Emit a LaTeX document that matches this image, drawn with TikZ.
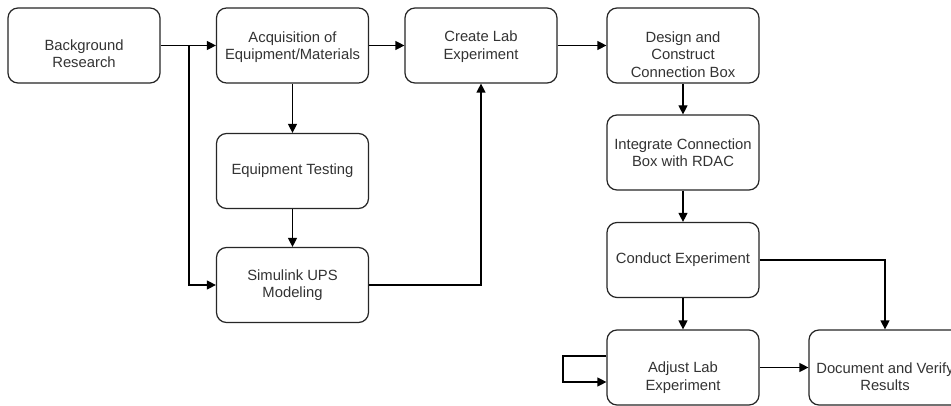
\documentclass[tikz,border=0pt]{standalone}
\usepackage{fontspec}
\setmainfont{Liberation Sans}
\usetikzlibrary{arrows.meta}
\definecolor{txt}{HTML}{333333}
\begin{document}
\begin{tikzpicture}[x=1pt,y=-1pt,
  box/.style={draw=black!85,line width=1.2pt,rounded corners=10pt,minimum width=152pt,minimum height=75pt,inner sep=0pt},
  lbl/.style={align=center,text=txt,font=\fontsize{14.8}{17.5}\selectfont,inner sep=0pt},
  conn/.style={draw=black,line width=1.2pt,-{Triangle[length=9pt,width=9pt]}}]
\useasboundingbox (0,0) rectangle (951,406);
\clip (0,0) rectangle (951,406);
\fill[white] (0,0) rectangle (951,406);
% boxes
\node[box] (bg) at (84,45.5) {};
\node[lbl] at ([yshift=-8]bg.center) {Background\\Research};
\node[box] (acq) at (292.5,45.5) {};
\node[lbl] at ([yshift=-1.5]acq.center) {Acquisition of\\Equipment/Materials};
\node[box] (create) at (481,45.5) {};
\node[lbl] at ([yshift=-1]create.center) {Create Lab\\Experiment};
\node[box] (design) at (683,45.5) {};
\node[lbl] at ([yshift=-9]design.center) {Design and\\Construct\\Connection Box};
\node[box] (integ) at (683,152.5) {};
\node[lbl] at (integ.center) {Integrate Connection\\Box with RDAC};
\node[box] (conduct) at (683,260) {};
\node[lbl] at (conduct.center) {Conduct Experiment};
\node[box] (adjust) at (683,367.5) {};
\node[lbl] at ([yshift=-10]adjust.center) {Adjust Lab\\Experiment};
\node[box] (doc) at (885,367.5) {};
\node[lbl] at ([yshift=-9]doc.center) {Document and Verify\\Results};
\node[box] (eqt) at (292.5,171) {};
\node[lbl] at (eqt.center) {Equipment Testing};
\node[box] (sim) at (292.5,285) {};
\node[lbl] at (sim.center) {Simulink UPS\\Modeling};
% connectors
\coordinate (br) at (189,45.5);
\draw[conn] (bg.east) -- (acq.west);
\draw[conn] (br) |- (sim.west);
\draw[conn] (acq.east) -- (create.west);
\draw[conn] (create.east) -- (design.west);
\draw[conn] (acq.south) -- (eqt.north);
\draw[conn] (eqt.south) -- (sim.north);
\draw[conn] (sim.east) -| (create.south);
\draw[conn] (design.south) -- (integ.north);
\draw[conn] (integ.south) -- (conduct.north);
\draw[conn] (conduct.east) -| (doc.north);
\draw[conn] (conduct.south) -- (adjust.north);
\draw[conn] (adjust.east) -- (doc.west);
\coordinate (lp1) at (563,356);
\coordinate (lp2) at (563,382);
\draw[conn] (adjust.west |- lp1) -- (lp1) -- (lp2) -- (adjust.west |- lp2);
\end{tikzpicture}
\end{document}
